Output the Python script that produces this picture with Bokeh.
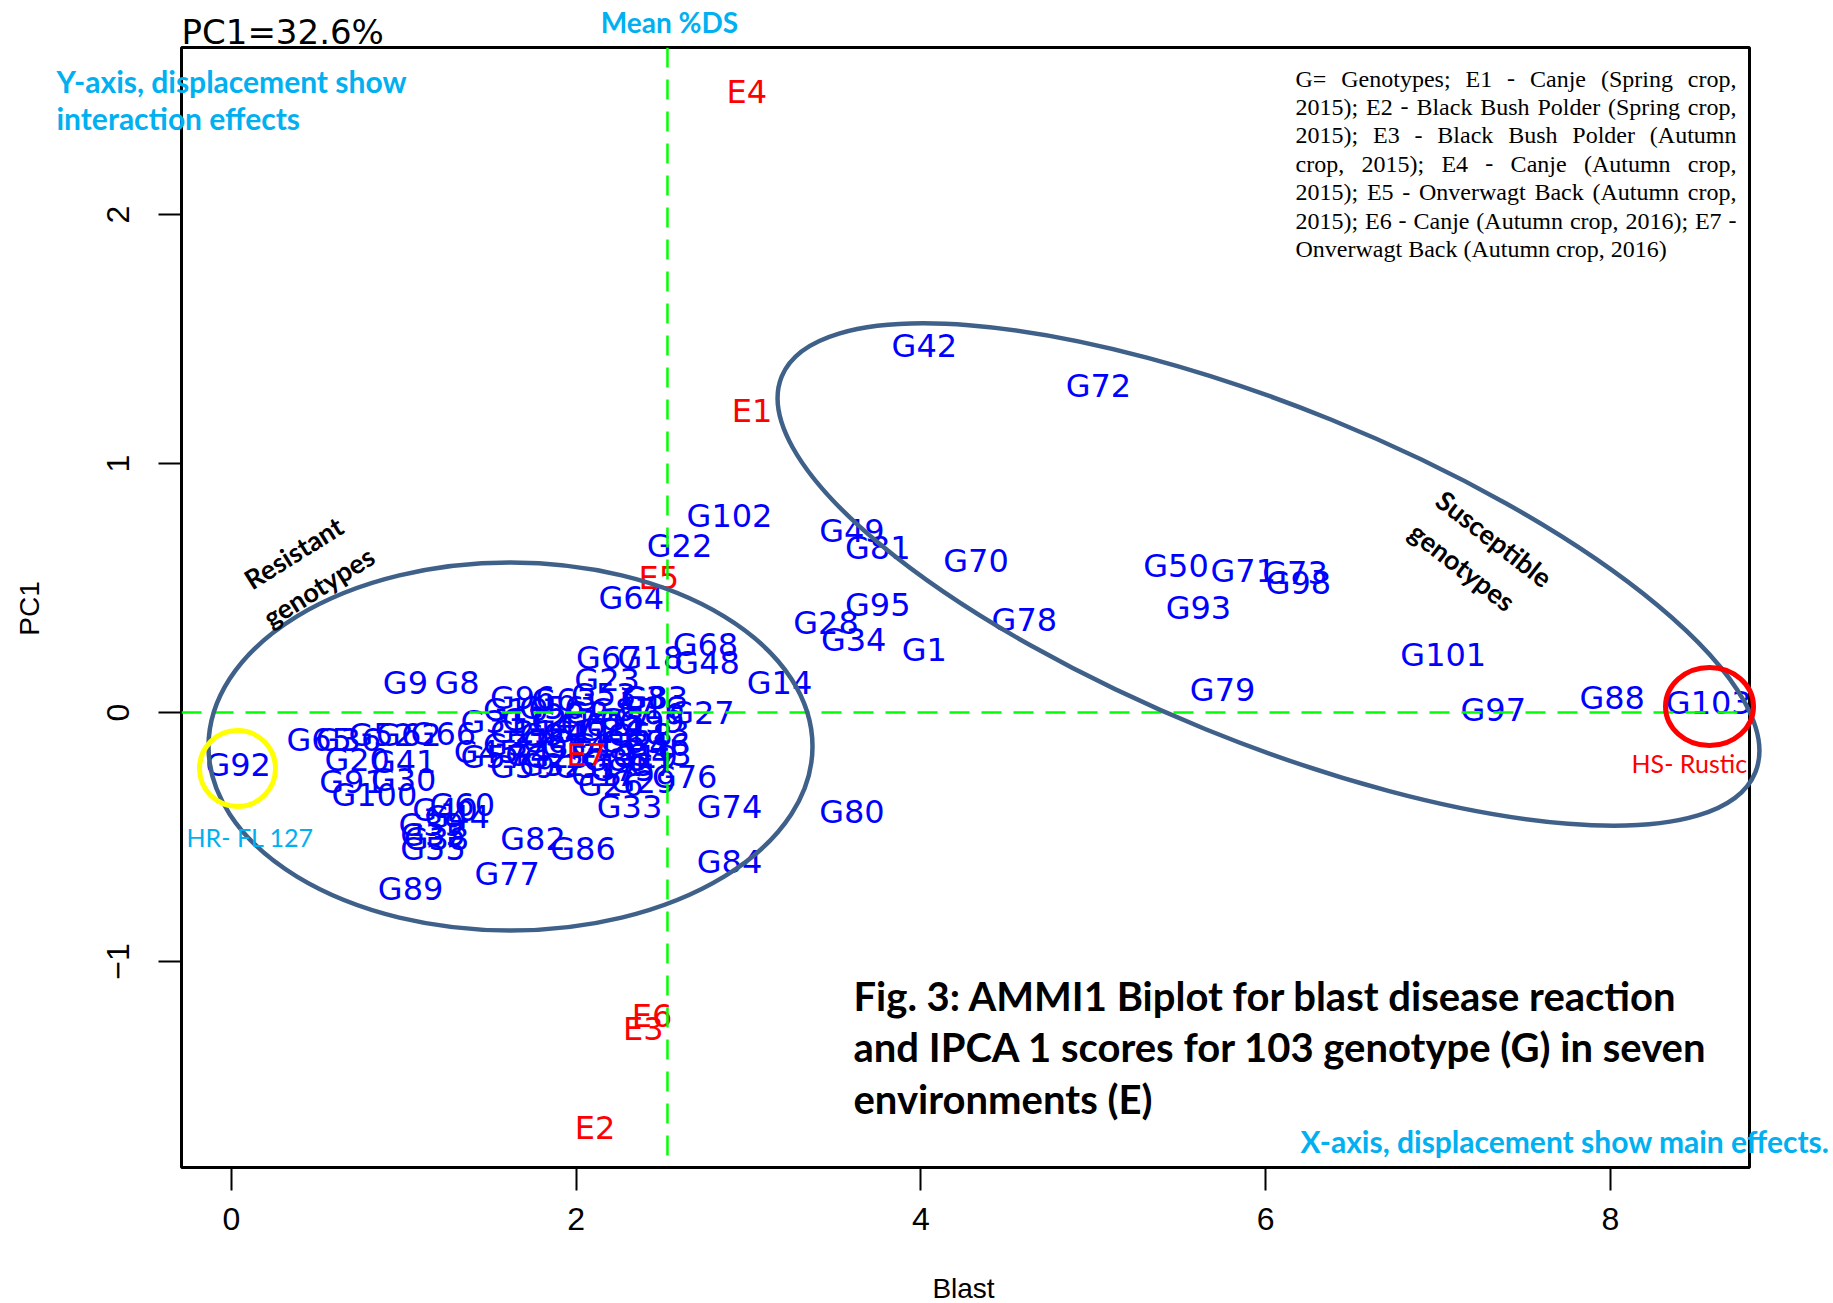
from bokeh.plotting import figure
from bokeh.models import Span, Label, Range1d, ColumnDataSource, FixedTicker, GridBox
from bokeh.embed import file_html
from bokeh.resources import INLINE
from bokeh.core.properties import value

# ---------------- data ----------------
geno = ["G42", "G72", "G102", "G49", "G81", "G70", "G22", "G64", "G95", "G28",
        "G34", "G1", "G78", "G50", "G71", "G73", "G98", "G93", "G101", "G79",
        "G97", "G88", "G103", "G14", "G68", "G48", "G27", "G67", "G18", "G23",
        "G80", "G74", "G84", "G33", "G26", "G29", "G76", "G43", "G83", "G82",
        "G86", "G77", "G89", "G92", "G9", "G8",
        "G65", "G36", "G52", "G62", "G66", "G20", "G41", "G91", "G30", "G100",
        "G60", "G40", "G44", "G39", "G35", "G55", "G38", "G45",
        "G96", "G63", "G53", "G3",
        "G10", "G56", "G2", "G87", "G16",
        "G31", "G12", "G47", "G61", "G5", "G99",
        "G21", "G94", "G11", "G24", "G58", "G13",
        "G37", "G6", "G54", "G15", "G69", "G46",
        "G57", "G4", "G25", "G85", "G19",
        "G59", "G32", "G51", "G75", "G7", "G17"]
geno_blast = [4.02, 5.03, 2.89, 3.60, 3.75, 4.32, 2.60, 2.32, 3.75, 3.45,
              3.61, 4.02, 4.60, 5.48, 5.87, 6.17, 6.19, 5.61, 7.03, 5.75,
              7.32, 8.01, 8.57, 3.18, 2.75, 2.76, 2.73, 2.19, 2.43, 2.18,
              3.60, 2.89, 2.89, 2.31, 2.20, 2.39, 2.63, 2.48, 2.46, 1.75,
              2.04, 1.60, 1.04, 0.04, 1.01, 1.31,
              0.51, 0.68, 0.87, 1.03, 1.23, 0.73, 1.00, 0.70, 1.00, 0.83,
              1.34, 1.24, 1.31, 1.16, 1.17, 1.17, 1.19, 1.48,
              1.69, 1.93, 2.16, 2.39,
              1.65, 1.86, 2.06, 2.27, 2.44,
              1.52, 1.76, 1.93, 2.10, 2.27, 2.44,
              1.69, 1.86, 2.03, 2.20, 2.37, 2.47,
              1.65, 1.82, 1.99, 2.16, 2.33, 2.47,
              1.52, 1.72, 1.89, 2.23, 2.40,
              1.69, 1.86, 2.06, 2.27, 2.44, 2.16]
geno_pc1 = [1.47, 1.31, 0.79, 0.73, 0.66, 0.61, 0.67, 0.46, 0.43, 0.36,
            0.29, 0.25, 0.37, 0.59, 0.57, 0.56, 0.52, 0.42, 0.23, 0.09,
            0.01, 0.06, 0.04, 0.12, 0.27, 0.20, 0.00, 0.22, 0.22, 0.13,
            -0.40, -0.38, -0.60, -0.38, -0.29, -0.28, -0.26, -0.17, 0.06, -0.51,
            -0.55, -0.65, -0.71, -0.21, 0.12, 0.12,
            -0.11, -0.11, -0.09, -0.09, -0.085, -0.19, -0.20, -0.28, -0.27, -0.33,
            -0.37, -0.39, -0.42, -0.45, -0.49, -0.55, -0.51, -0.16,
            0.06, 0.05, 0.07, 0.06,
            0.01, 0.02, 0.00, 0.01, 0.02,
            -0.04, -0.03, -0.04, -0.05, -0.03, -0.04,
            -0.08, -0.09, -0.08, -0.07, -0.09, -0.08,
            -0.13, -0.12, -0.14, -0.13, -0.12, -0.13,
            -0.18, -0.17, -0.18, -0.19, -0.18,
            -0.22, -0.21, -0.22, -0.23, -0.21, -0.25]

env = ["E1", "E2", "E3", "E4", "E5", "E6", "E7"]
env_blast = [3.02, 2.11, 2.39, 2.99, 2.48, 2.44, 2.06]
env_pc1 = [1.21, -1.67, -1.27, 2.49, 0.54, -1.22, -0.17]

mean_blast = 2.53
x_ticks = [0, 2, 4, 6, 8]
y_ticks = [-1, 0, 1, 2]

# ---------------- layout helpers (page px -> data) ----------------
W, H = 1833, 1303
X0, XU = 230.8, 172.4     # page x of blast=0, px per unit
Y0, YU = 712.0, 249.0     # page y of PC1=0, px per unit
FL, FR, FT, FB = 181, 1749, 47, 1167   # plot box edges on the page


def px2x(px):
    return (px - X0) / XU


def px2y(py):
    return (Y0 - py) / YU


# ---------------- main chart ----------------
p = figure(width=W, height=H, output_backend="svg", toolbar_location=None,
           x_range=Range1d(px2x(FL), px2x(FR)), y_range=Range1d(px2y(FB), px2y(FT)),
           min_border_left=FL, min_border_right=W - FR, min_border_top=FT,
           min_border_bottom=H - FB)
p.background_fill_color = "white"
p.border_fill_color = "white"
p.outline_line_color = "black"
p.outline_line_width = 3
p.xgrid.visible = False
p.ygrid.visible = False

for ax, ticks in ((p.xaxis, x_ticks), (p.yaxis, y_ticks)):
    ax.ticker = FixedTicker(ticks=ticks)
    ax.axis_line_color = None
    ax.major_tick_out = 23
    ax.major_tick_in = 0
    ax.minor_tick_out = 0
    ax.minor_tick_in = 0
    ax.major_tick_line_width = 2
    ax.major_tick_line_color = "black"
    ax.major_label_text_font = "Liberation Sans"
    ax.major_label_text_font_size = "32px"
    ax.major_label_text_color = "black"

p.xaxis.major_label_standoff = 17
p.yaxis.major_label_orientation = "vertical"
p.yaxis.major_label_standoff = 30

# reference lines
p.add_layout(Span(location=0, dimension="width", line_color="#00FF00",
                  line_dash="20 12", line_width=2.5))
p.add_layout(Span(location=mean_blast, dimension="height", line_color="#00FF00",
                  line_dash="20 12", line_width=2.5))

gsrc = ColumnDataSource(dict(x=geno_blast, y=geno_pc1, t=geno))
p.text(x="x", y="y", text="t", source=gsrc, text_align="center", text_baseline="middle",
       text_color="#0000FF", text_font=value("DejaVu Sans"), text_font_size="32px")
esrc = ColumnDataSource(dict(x=env_blast, y=env_pc1, t=env))
p.text(x="x", y="y", text="t", source=esrc, text_align="center", text_baseline="middle",
       text_color="#FF0000", text_font=value("DejaVu Sans"), text_font_size="32px")

# ---------------- transparent overlay for annotations (not clipped to the box) ----------------
q = figure(width=W, height=H, output_backend="svg", toolbar_location=None,
           x_range=Range1d(px2x(0), px2x(W)), y_range=Range1d(px2y(H), px2y(0)),
           x_axis_type=None, y_axis_type=None, min_border=0)
q.background_fill_color = None
q.border_fill_color = None
q.outline_line_color = None
for fig in (p, q):
    if hasattr(fig, "frame_align"):
        fig.frame_align = False

ell_col = "#3F6189"
q.ellipse(x=[px2x(510)], y=[px2y(746)], width=604, height=368,
          width_units="screen", height_units="screen",
          fill_color=None, line_color=ell_col, line_width=4.5)
q.ellipse(x=[px2x(1268)], y=[px2y(574)], width=1051, height=334, angle=-0.386,
          width_units="screen", height_units="screen",
          fill_color=None, line_color=ell_col, line_width=4.5)
q.ellipse(x=[px2x(237)], y=[px2y(768)], width=76, height=76,
          width_units="screen", height_units="screen",
          fill_color=None, line_color="#FFFF00", line_width=5)
q.ellipse(x=[px2x(1709)], y=[px2y(706)], width=88, height=78,
          width_units="screen", height_units="screen",
          fill_color=None, line_color="#FF0000", line_width=5)


def lab(text, px, py, size, color="black", font="Lato", style="bold", align="left",
        angle=0.0, baseline="middle"):
    q.add_layout(Label(x=px2x(px), y=px2y(py), text=text, text_font=font,
                       text_font_size=f"{size}px", text_color=color, text_font_style=style,
                       text_align=align, text_baseline=baseline, angle=angle))


cyan = "#00B0F0"
lab("PC1=32.6%", 181, 31, 34, font="DejaVu Sans", style="normal")
lab("Mean %DS", 669, 21, 28, color=cyan, align="center")
lab("Y-axis, displacement show", 56, 80, 30, color=cyan)
lab("interaction effects", 56, 117, 30, color=cyan)
lab("X-axis, displacement show main effects.", 1829, 1140, 30, color=cyan, align="right")
lab("HR- FL 127", 186, 836, 25, color=cyan, style="normal")
lab("HS- Rustic", 1631, 762, 25, color="#FF0000", style="normal")
lab("Resistant", 293, 552, 27, align="center", angle=0.56)
lab("genotypes", 318, 586, 27, align="center", angle=0.56)
lab("Susceptible", 1494, 538, 27, align="center", angle=-0.66)
lab("genotypes", 1462, 566, 27, align="center", angle=-0.66)
lab("Blast", 963, 1288, 28, font="Liberation Sans", style="normal", align="center")
lab("PC1", 29, 608, 28, font="Liberation Sans", style="normal", align="center",
    angle=1.5708)

caption = ["Fig. 3: AMMI1 Biplot for blast disease reaction",
           "and IPCA 1 scores for 103 genotype (G) in seven",
           "environments (E)"]
for i, line in enumerate(caption):
    lab(line, 853, 995 + 51.5 * i, 40)

# justified legend text (Times metrics)
TW = {' ': 250, '(': 333, ')': 333, ',': 250, '-': 333, '.': 250, ':': 278, ';': 278, '=': 564,
      'A': 722, 'B': 667, 'C': 667, 'D': 722, 'E': 611, 'G': 722, 'O': 722, 'P': 556, 'S': 556,
      'a': 444, 'b': 500, 'c': 444, 'd': 500, 'e': 444, 'g': 500, 'h': 500, 'i': 278, 'j': 278,
      'k': 500, 'l': 278, 'm': 778, 'n': 500, 'o': 500, 'p': 500, 'r': 333, 's': 389, 't': 278,
      'u': 500, 'v': 500, 'w': 722, 'y': 500}
legend_lines = ["G= Genotypes; E1 - Canje (Spring crop,",
                "2015); E2 - Black Bush Polder (Spring crop,",
                "2015); E3 - Black Bush Polder (Autumn",
                "crop, 2015); E4 - Canje (Autumn crop,",
                "2015); E5 - Onverwagt Back (Autumn crop,",
                "2015); E6 - Canje (Autumn crop, 2016); E7 -",
                "Onverwagt Back (Autumn crop, 2016)"]
LFS = 24
L_LEFT, L_RIGHT = 1295, 1736


def tw(s):
    return sum(TW.get(c, 500) for c in s) * LFS / 1000.0


for i, line in enumerate(legend_lines):
    py = 78 + 28.45 * i
    words = line.split(" ")
    if i == len(legend_lines) - 1:
        lab(line, L_LEFT, py, LFS, font="Liberation Serif", style="normal")
        continue
    total = sum(tw(w) for w in words)
    gap = (L_RIGHT - L_LEFT - total) / (len(words) - 1)
    xcur = L_LEFT
    for j, w in enumerate(words):
        if j == len(words) - 1:
            lab(w, L_RIGHT, py, LFS, font="Liberation Serif", style="normal", align="right")
        else:
            lab(w, xcur, py, LFS, font="Liberation Serif", style="normal")
        xcur += tw(w) + gap

layout = GridBox(children=[(p, 0, 0), (q, 0, 0)])
open("out.html", "w").write(file_html(layout, INLINE))
